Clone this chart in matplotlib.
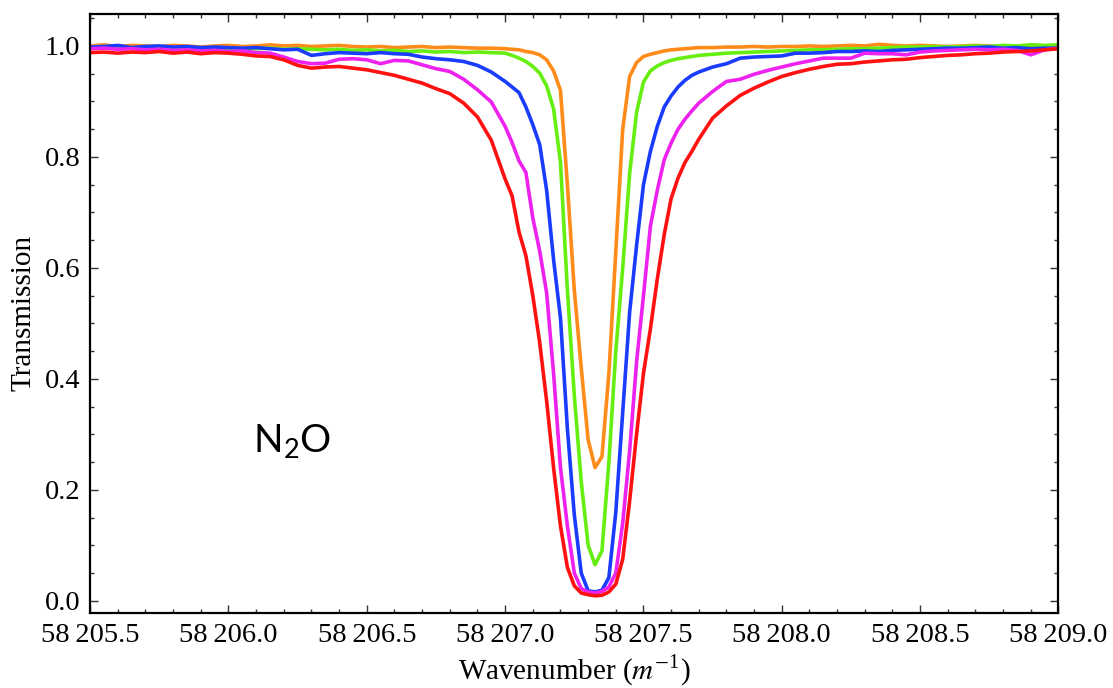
import matplotlib
matplotlib.use("Agg")
import matplotlib.pyplot as plt
import matplotlib.ticker as ticker

# wavenumber sampling (m^-1)
wavenumber = [
    58205.50, 58205.55, 58205.60, 58205.65, 58205.70, 58205.75, 58205.80, 58205.85, 58205.90, 58205.95,
    58206.00, 58206.05, 58206.10, 58206.15, 58206.20, 58206.25, 58206.30, 58206.35, 58206.40, 58206.45,
    58206.50, 58206.55, 58206.60, 58206.65, 58206.70, 58206.75, 58206.80, 58206.85, 58206.90, 58206.95,
    58207.000, 58207.025, 58207.050, 58207.075, 58207.100, 58207.125, 58207.150, 58207.175, 58207.200,
    58207.225, 58207.250, 58207.275, 58207.300, 58207.325, 58207.350, 58207.375, 58207.400, 58207.425,
    58207.450, 58207.475, 58207.500, 58207.525, 58207.550, 58207.575, 58207.600, 58207.625, 58207.650,
    58207.675, 58207.700,
    58207.75, 58207.80, 58207.85, 58207.90, 58207.95, 58208.00, 58208.05, 58208.10, 58208.15, 58208.20,
    58208.25, 58208.30, 58208.35, 58208.40, 58208.45, 58208.50, 58208.55, 58208.60, 58208.65, 58208.70,
    58208.75, 58208.80, 58208.85, 58208.90, 58208.95, 58209.00,
]

t_orange = [
    1.000, 1.002, 0.999, 1.001, 1.000, 0.999, 1.001, 1.000, 0.998, 1.000,
    1.001, 0.999, 1.000, 1.002, 1.000, 1.001, 0.999, 1.000, 1.001, 0.999,
    0.998, 0.999, 0.997, 0.998, 0.999, 0.997, 0.998, 0.997, 0.996, 0.996,
    0.995, 0.994, 0.993, 0.990, 0.988, 0.984, 0.975, 0.955, 0.920, 0.750,
    0.560, 0.420, 0.290, 0.240, 0.260, 0.410, 0.630, 0.850, 0.945, 0.970,
    0.981, 0.985, 0.988, 0.991, 0.993, 0.994, 0.995, 0.996, 0.997,
    0.997, 0.998, 0.998, 0.999, 0.998, 0.999, 0.999, 1.000, 0.999, 1.000,
    1.001, 1.000, 1.003, 1.001, 1.000, 1.001, 1.000, 0.999, 1.000, 1.001,
    1.000, 0.999, 1.000, 1.001, 1.000, 1.001,
]

t_green = [
    0.996, 0.997, 0.995, 0.996, 0.997, 0.995, 0.996, 0.994, 0.995, 0.996,
    0.995, 0.994, 0.995, 0.996, 0.994, 0.995, 0.994, 0.993, 0.994, 0.992,
    0.993, 0.991, 0.992, 0.990, 0.991, 0.989, 0.990, 0.988, 0.989, 0.988,
    0.987, 0.983, 0.978, 0.972, 0.963, 0.951, 0.928, 0.887, 0.790, 0.560,
    0.370, 0.215, 0.100, 0.065, 0.090, 0.250, 0.450, 0.600, 0.770, 0.880,
    0.935, 0.955, 0.964, 0.970, 0.974, 0.977, 0.979, 0.981, 0.983,
    0.985, 0.987, 0.988, 0.989, 0.990, 0.991, 0.992, 0.993, 0.993, 0.994,
    0.995, 0.995, 0.996, 0.997, 0.998, 0.998, 0.999, 0.998, 0.999, 1.000,
    0.999, 1.001, 1.000, 1.002, 1.001, 1.002,
]

t_blue = [
    0.998, 0.999, 1.001, 0.997, 0.999, 1.000, 0.998, 0.999, 0.997, 0.998,
    0.997, 0.996, 0.997, 0.995, 0.993, 0.994, 0.983, 0.986, 0.988, 0.987,
    0.986, 0.988, 0.986, 0.985, 0.980, 0.977, 0.975, 0.972, 0.965, 0.953,
    0.936, 0.926, 0.916, 0.890, 0.858, 0.822, 0.740, 0.615, 0.510, 0.310,
    0.155, 0.050, 0.018, 0.016, 0.019, 0.042, 0.160, 0.340, 0.520, 0.640,
    0.750, 0.810, 0.855, 0.890, 0.910, 0.926, 0.938, 0.947, 0.953,
    0.962, 0.968, 0.978, 0.980, 0.981, 0.982, 0.987, 0.987, 0.988, 0.990,
    0.990, 0.991, 0.990, 0.992, 0.993, 0.994, 0.995, 0.996, 0.996, 0.997,
    0.998, 0.996, 0.997, 0.995, 0.996, 0.996,
]

t_magenta = [
    0.995, 0.996, 0.994, 0.995, 0.993, 0.994, 0.992, 0.993, 0.991, 0.992,
    0.990, 0.991, 0.988, 0.987, 0.980, 0.972, 0.968, 0.969, 0.976, 0.977,
    0.975, 0.968, 0.974, 0.973, 0.966, 0.959, 0.954, 0.940, 0.921, 0.899,
    0.855, 0.826, 0.793, 0.772, 0.690, 0.630, 0.555, 0.410, 0.240, 0.135,
    0.050, 0.022, 0.016, 0.014, 0.017, 0.025, 0.050, 0.140, 0.270, 0.430,
    0.550, 0.675, 0.740, 0.795, 0.825, 0.850, 0.868, 0.883, 0.897,
    0.918, 0.936, 0.940, 0.949, 0.956, 0.962, 0.968, 0.973, 0.978, 0.978,
    0.978, 0.987, 0.986, 0.986, 0.984, 0.989, 0.991, 0.992, 0.993, 0.994,
    0.993, 0.994, 0.992, 0.984, 0.993, 0.996,
]

t_red = [
    0.988, 0.989, 0.987, 0.989, 0.988, 0.990, 0.987, 0.989, 0.986, 0.988,
    0.987, 0.985, 0.982, 0.981, 0.975, 0.965, 0.960, 0.962, 0.963, 0.960,
    0.957, 0.952, 0.947, 0.940, 0.933, 0.923, 0.914, 0.897, 0.872, 0.830,
    0.760, 0.730, 0.665, 0.622, 0.550, 0.465, 0.360, 0.240, 0.135, 0.060,
    0.027, 0.014, 0.011, 0.009, 0.010, 0.016, 0.030, 0.075, 0.180, 0.300,
    0.410, 0.490, 0.580, 0.660, 0.725, 0.762, 0.790, 0.810, 0.832,
    0.870, 0.892, 0.911, 0.924, 0.935, 0.945, 0.952, 0.958, 0.963, 0.967,
    0.968, 0.971, 0.973, 0.975, 0.976, 0.979, 0.981, 0.983, 0.984, 0.986,
    0.987, 0.989, 0.990, 0.991, 0.993, 0.995,
]

series = [
    (t_orange, '#ff8c1a'),
    (t_green, '#66ee11'),
    (t_blue, '#1a3cff'),
    (t_magenta, '#ee22ee'),
    (t_red, '#ff1111'),
]

y_ticks = [0.0, 0.2, 0.4, 0.6, 0.8, 1.0]
x_ticks = [58205.5, 58206.0, 58206.5, 58207.0, 58207.5, 58208.0, 58208.5, 58209.0]

plt.rcParams['mathtext.fontset'] = 'stix'
serif = 'Liberation Serif'

fig = plt.figure(figsize=(11.13, 6.88), dpi=100)
ax = fig.add_axes([0.081, 0.109, 0.870, 0.871])

for vals, col in series:
    ax.plot(wavenumber, vals, color=col, linewidth=2.6)

ax.set_xlim(58205.5, 58209.0)
ax.set_ylim(-0.022, 1.058)

ax.set_xticks(x_ticks)
ax.set_yticks(y_ticks)
ax.xaxis.set_minor_locator(ticker.MultipleLocator(0.1))
ax.yaxis.set_minor_locator(ticker.MultipleLocator(0.05))


def wn_fmt(v, pos):
    # 58 205.5 style, thin space between thousands
    return "%d\u2009%05.1f" % (int(v // 1000), v - 1000 * (v // 1000))


ax.xaxis.set_major_formatter(ticker.FuncFormatter(wn_fmt))
ax.yaxis.set_major_formatter(ticker.FormatStrFormatter('%.1f'))

ax.tick_params(which='both', direction='in', top=True, right=True, width=1.0, color='#333333')
ax.tick_params(which='major', length=6, labelsize=20.5, pad=7)
ax.tick_params(which='minor', length=3)
for lab in ax.get_xticklabels() + ax.get_yticklabels():
    lab.set_fontfamily(serif)

for sp in ax.spines.values():
    sp.set_linewidth(1.6)

ax.set_xlabel(r'Wavenumber ($m^{-\mathregular{1}}$)', fontsize=21, family=serif, labelpad=4)
ax.set_ylabel('Transmission', fontsize=21, family=serif, labelpad=6)

ax.text(58206.09, 0.268, r'$\mathregular{N_2O}$', fontsize=28, family='Lato',
        ha='left', va='baseline')

plt.savefig('out.png', dpi=100)
plt.close(fig)
